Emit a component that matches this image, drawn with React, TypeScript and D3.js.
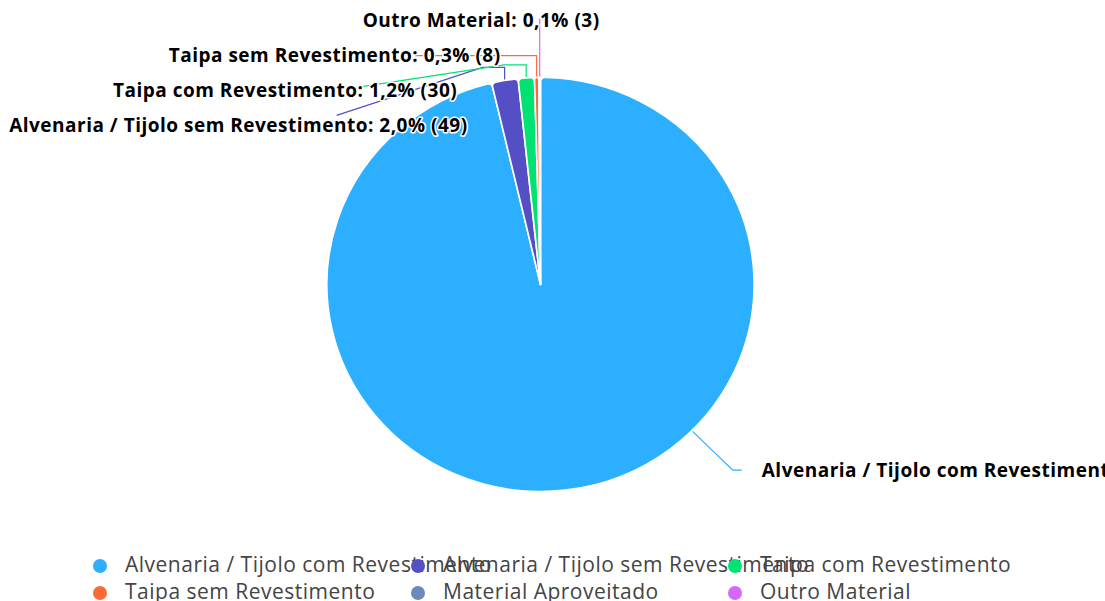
import { useEffect, useRef } from 'react';
import * as d3 from 'd3';

const categories = [
    'Alvenaria / Tijolo com Revestimento',
    'Alvenaria / Tijolo sem Revestimento',
    'Taipa com Revestimento',
    'Taipa sem Revestimento',
    'Material Aproveitado',
    'Outro Material',
];
const counts = [2360, 49, 30, 8, 0, 3];
const colors = ['#2caffe', '#544fc5', '#00e272', '#fe6a35', '#6b8abc', '#d568fb'];

// label layout for the small slices at the top (stack slot, lift of connector, end of connector, text right edge)
const smallLabels: Record<string, { slot: number; lift: number; lineEnd: [number, number]; textEnd: number }> = {
    'Outro Material': { slot: 0, lift: 58, lineEnd: [0, 0], textEnd: 60 },
    'Taipa sem Revestimento': { slot: 1, lift: 21, lineEnd: [-122, 0], textEnd: -36 },
    'Taipa com Revestimento': { slot: 2, lift: 12, lineEnd: [-166, 22], textEnd: -69 },
    'Alvenaria / Tijolo sem Revestimento': { slot: 3, lift: 12, lineEnd: [-168, 48], textEnd: -37 },
};

const W = 1105;
const H = 601;

export default function App() {
    const svgRef = useRef<SVGSVGElement>(null);

    useEffect(() => {
        if (!svgRef.current) return;
        const svg = d3.select(svgRef.current);
        svg.selectAll('*').remove();

        const cx = 540.5, cy = 284.5, r = 207, sx = 1.032; // picture is a little wider than tall
        const total = d3.sum(counts);
        const data = categories.map((c, i) => ({ name: c, value: counts[i], color: colors[i] }));

        const pie = d3.pie<typeof data[0]>().sort(null).value(d => d.value).startAngle(0).endAngle(2 * Math.PI);
        const arcs = pie(data);
        const arc = d3.arc<d3.PieArcDatum<typeof data[0]>>().innerRadius(0).outerRadius(r).cornerRadius(4);

        const g = svg.append('g').attr('transform', `translate(${cx},${cy}) scale(${sx},1)`);
        g.selectAll('path.slice')
            .data(arcs.filter(a => a.value > 0))
            .join('path')
            .attr('class', 'slice')
            .attr('d', arc)
            .attr('fill', d => d.data.color)
            .attr('stroke', '#fff')
            .attr('stroke-width', 1.6)
            .attr('stroke-linejoin', 'round');

        const fmt = (v: number) => d3.format('.1f')((v / total) * 100).replace('.', ',');
        const labelFont = '"Segoe UI", "Open Sans", sans-serif';

        const addLabel = (sel: d3.Selection<SVGGElement, unknown, null, undefined>, x: number, y: number, anchor: string, t: string) =>
            sel.append('text')
                .attr('x', x)
                .attr('y', y)
                .attr('dy', '0.35em')
                .attr('text-anchor', anchor)
                .attr('font-family', labelFont)
                .attr('font-weight', 'bold')
                .attr('font-size', 19)
                .attr('letter-spacing', 0.5)
                .attr('fill', '#000')
                .attr('stroke', '#fff')
                .attr('stroke-width', 3)
                .attr('stroke-linejoin', 'round')
                .attr('paint-order', 'stroke')
                .text(t);

        // connectors + labels
        const lab = svg.append('g');
        arcs.forEach(a => {
            if (a.value <= 0) return;
            const mid = (a.startAngle + a.endAngle) / 2;
            const text = `${a.data.name}: ${fmt(a.value)}% (${a.value})`;
            const lay = smallLabels[a.data.name];
            if (lay) {
                const [ex, ey] = d3.pointRadial(mid, r + 1);
                const p0: [number, number] = [cx + ex * sx, cy + ey];
                const p1: [number, number] = [p0[0], p0[1] - lay.lift];
                const pts: [number, number][] = [p0, p1];
                if (lay.lineEnd[1] > 0) pts.push([p1[0] - 22, p1[1]]);
                if (lay.lineEnd[0] !== 0) pts.push([p0[0] + lay.lineEnd[0], p1[1] + lay.lineEnd[1]]);
                lab.append('path')
                    .attr('d', d3.line()(pts))
                    .attr('fill', 'none')
                    .attr('stroke', a.data.color)
                    .attr('stroke-width', 1.2);
                addLabel(lab, p0[0] + lay.textEnd, 20 + lay.slot * 35, 'end', text);
            } else {
                // big slice: connector goes down-right
                const ang = (134.9 * Math.PI) / 180;
                const [ax, ay] = d3.pointRadial(ang, r + 1);
                const [bx, by] = d3.pointRadial(ang, r + 56);
                const pts: [number, number][] = [[cx + ax * sx, cy + ay], [cx + bx * sx, cy + by], [cx + bx * sx + 9, cy + by]];
                lab.append('path')
                    .attr('d', d3.line()(pts))
                    .attr('fill', 'none')
                    .attr('stroke', a.data.color)
                    .attr('stroke-width', 1.2);
                addLabel(lab, cx + bx * sx + 29, cy + by, 'start', text);
            }
        });

        // legend, 3 columns
        const colX = d3.scaleOrdinal<number, number>().domain([0, 1, 2]).range([100, 418, 735]);
        const rowY = d3.scaleOrdinal<number, number>().domain([0, 1]).range([565, 592]);
        const leg = svg.append('g');
        categories.forEach((c, i) => {
            leg.append('text')
                .attr('x', colX(i % 3) + 25)
                .attr('y', rowY(Math.floor(i / 3)))
                .attr('dy', '0.35em')
                .attr('font-family', labelFont)
                .attr('font-size', 21)
                .attr('letter-spacing', 0.5)
                .attr('fill', '#444')
                .text(c);
        });
        categories.forEach((c, i) => {
            leg.append('circle')
                .attr('cx', colX(i % 3))
                .attr('cy', rowY(Math.floor(i / 3)) + 1)
                .attr('r', 7)
                .attr('fill', colors[i]);
        });
    }, []);

    return (
        <svg
            ref={svgRef}
            width={W}
            height={H}
            style={{ position: 'absolute', left: 0, top: 0, background: '#fff' }}
        />
    );
}
